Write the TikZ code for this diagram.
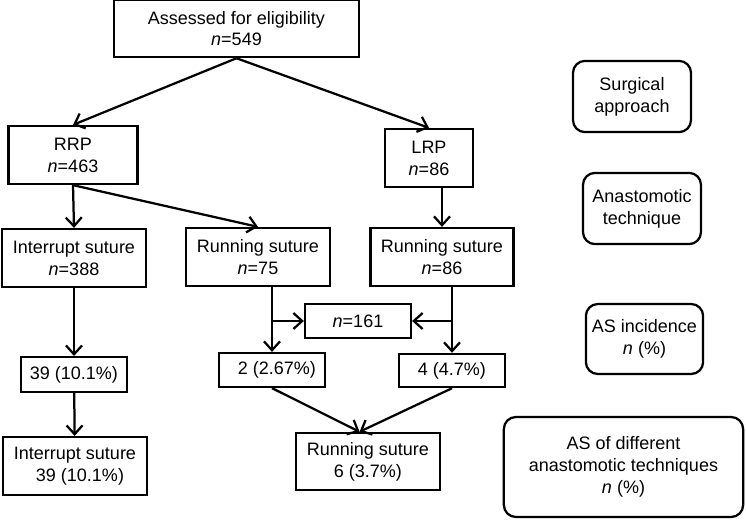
\documentclass[tikz,border=0pt]{standalone}
\usepackage{fontspec}
\setmainfont{Liberation Sans}
\usetikzlibrary{arrows.meta}
\begin{document}
\begin{tikzpicture}[x=0.025cm, y=-0.025cm, line width=1.6pt,
    box/.style={rectangle, draw, align=center, inner sep=0pt, font=\fontsize{12.8}{15.5}\selectfont},
    tag/.style={box, rounded corners=0.3cm},
    >={Straight Barb[length=2.2mm,width=4mm]}]
        \useasboundingbox (0,0) rectangle (746,521);

        \node[box, minimum width=6.12cm, minimum height=1.43cm] (assessed) at(236.5,28.5){Assessed for eligibility\\\textit{n}=549};
        \node[box, minimum width=3.22cm, minimum height=1.45cm] (rrp) at(73,155){RRP\\\textit{n}=463};
        \node[box, minimum width=2.2cm, minimum height=1.45cm] (lrp) at(429,158){LRP\\\textit{n}=86};

        \node[box, minimum width=3.6cm, minimum height=1.45cm] (interrupt) at(74,258){Interrupt suture\\\textit{n}=388};
        \node[box, minimum width=3.6cm, minimum height=1.45cm] (running-rrp) at(258,257){Running suture\\\textit{n}=75};
        \node[box, minimum width=3.58cm, minimum height=1.45cm] (running-lrp) at(442,257){Running suture\\\textit{n}=86};

        \node[box, minimum width=2.65cm, minimum height=0.85cm] (total-running) at(358,321){\textit{n}=161};

        \node[box, minimum width=2.65cm, minimum height=0.87cm] (interrupt-as) at(74,374.5){39 (10.1\%)};
        \node[box, minimum width=2.65cm, minimum height=0.85cm] (rrp-as) at(272,370){\ \ 2 (2.67\%)};
        \node[box, minimum width=2.65cm, minimum height=0.83cm] (lrp-as) at(452,370.5){4 (4.7\%)};

        \node[box, minimum width=3.6cm, minimum height=1.45cm] (interrupt-result) at(75,466){Interrupt suture\\\ \ 39 (10.1\%)};
        \node[box, minimum width=3.6cm, minimum height=1.43cm] (running-result) at(368,461.5){Running suture\\6 (3.7\%)};

        \node[tag, minimum width=2.95cm, minimum height=1.78cm] (approach-tag) at(632,96.5){Surgical\\approach};
        \node[tag, minimum width=2.95cm, minimum height=1.78cm] (technique-tag) at(642,208.5){Anastomotic\\technique};
        \node[tag, minimum width=2.93cm, minimum height=1.75cm] (incidence-tag) at(644.5,339){AS incidence\\\textit{n} (\%)};
        \node[tag, minimum width=5.98cm, minimum height=2.5cm] (result-tag) at(623.5,467){AS of different\\anastomotic techniques\\\textit{n} (\%)};

        \coordinate (split-rrp) at(272,321);
        \coordinate (split-lrp) at(452,321);

        \draw [->] (assessed.south) -- (rrp.north);
        \draw [->] (assessed.south) -- (lrp.north);

        \draw [->] (rrp.south) -- (interrupt.north);
        \draw [->] (rrp.south) -- (running-rrp.north);
        \draw [->] (lrp.south -| running-lrp.north) -- (running-lrp.north);

        \draw [->] (interrupt) -- (interrupt-as);
        \draw [->] (interrupt-as) -- (interrupt-result);

        \draw [->] (running-rrp.south -| rrp-as.north) -- (rrp-as.north);
        \draw [->] (split-rrp) -- (total-running.west);
        \draw [->] (running-lrp.south -| lrp-as.north) -- (lrp-as.north);
        \draw [->] (split-lrp) -- (total-running.east);

        \draw [->] (rrp-as.south) -- ([xshift=-6pt]running-result.north);
        \draw [->] (lrp-as.south) -- ([xshift=-6pt]running-result.north);

\end{tikzpicture}
\end{document}
